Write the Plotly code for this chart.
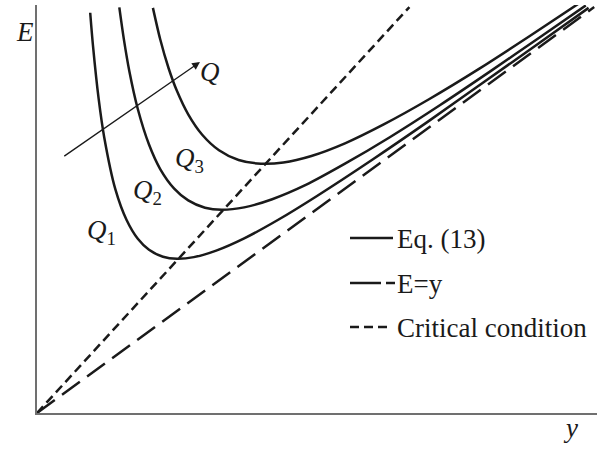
import plotly.graph_objects as go

# Specific-energy curves E(y) for three discharges (Q1 < Q2 < Q3)
q1_y = [0.95, 1.0, 1.1, 1.2, 1.4, 1.6, 1.8, 2.0, 2.25, 2.5, 2.8, 3.2, 3.7, 4.3, 5.0, 6.0, 7.0, 8.0, 9.0, 9.85]
q1_E = [9.81, 9.0, 7.71, 6.76, 5.48, 4.73, 4.27, 4.0, 3.83, 3.78, 3.82, 3.98, 4.28, 4.73, 5.32, 6.22, 7.16, 8.13, 9.10, 9.93]

q2_y = [1.47, 1.55, 1.65, 1.8, 2.0, 2.2, 2.45, 2.7, 3.0, 3.3, 3.7, 4.2, 4.8, 5.5, 6.3, 7.2, 8.1, 9.0, 9.8]
q2_E = [9.94, 9.17, 8.37, 7.45, 6.58, 5.98, 5.50, 5.21, 5.03, 4.98, 5.04, 5.24, 5.59, 6.11, 6.76, 7.55, 8.38, 9.23, 9.99]

q3_y = [2.07, 2.2, 2.35, 2.5, 2.7, 2.95, 3.25, 3.6, 4.0, 4.4, 4.9, 5.5, 6.2, 7.0, 7.9, 8.8, 9.7]
q3_E = [9.93, 9.16, 8.45, 7.89, 7.32, 6.82, 6.44, 6.20, 6.11, 6.14, 6.30, 6.61, 7.08, 7.69, 8.44, 9.24, 10.06]

# Reference lines
eqy_y = [0.0, 9.95]
eqy_E = [0.0, 9.95]
crit_y = [0.0, 6.65]
crit_E = [0.0, 9.95]

legend_labels = ["Eq. (13)", "E=y", "Critical condition"]
curve_labels = ["<i>Q</i><sub>1</sub>", "<i>Q</i><sub>2</sub>", "<i>Q</i><sub>3</sub>"]

INK = "#1a1a1a"
SERIF = "Liberation Serif"
FS = 27

fig = go.Figure()
for ys, Es in [(q1_y, q1_E), (q2_y, q2_E), (q3_y, q3_E)]:
    fig.add_trace(go.Scatter(x=ys, y=Es, mode="lines", line=dict(color=INK, width=2.5, shape="spline", smoothing=0.8),
                             showlegend=False, hoverinfo="skip"))
fig.add_trace(go.Scatter(x=eqy_y, y=eqy_E, mode="lines", line=dict(color=INK, width=2.5, dash="22px,9px"),
                         showlegend=False, hoverinfo="skip"))
fig.add_trace(go.Scatter(x=crit_y, y=crit_E, mode="lines", line=dict(color=INK, width=2.5, dash="9px,5px"),
                         showlegend=False, hoverinfo="skip"))

ann = []
# curve labels
for (lx, ly), txt in zip([(1.16, 4.44), (1.98, 5.42), (2.73, 6.20)], curve_labels):
    ann.append(dict(x=lx, y=ly, xref="x", yref="y", text=txt, showarrow=False,
                    font=dict(family=SERIF, size=FS, color=INK)))
# increasing-Q arrow
ann.append(dict(x=2.91, y=8.60, ax=0.46, ay=6.27, xref="x", yref="y", axref="x", ayref="y",
                text="", showarrow=True, arrowhead=2, arrowsize=1.2, arrowwidth=1.3, arrowcolor=INK))
ann.append(dict(x=3.09, y=8.36, xref="x", yref="y", text="<i>Q</i>", showarrow=False,
                font=dict(family=SERIF, size=FS, color=INK)))
# axis titles
ann.append(dict(x=-0.041, y=0.975, xref="paper", yref="paper", text="<i>E</i>", showarrow=False,
                font=dict(family=SERIF, size=FS, color=INK)))
ann.append(dict(x=0.97, y=-0.078, xref="paper", yref="paper", text="<i>y</i>", showarrow=False,
                font=dict(family=SERIF, size=FS, color=INK)))

# legend drawn by hand
def px(xp):
    return (xp - 37) / 560.0

def py(yp):
    return (413 - yp) / 408.0

rows = [238, 283, 327]
for r, txt in zip(rows, legend_labels):
    ann.append(dict(x=px(395), y=py(r + 1), xref="paper", yref="paper", text=txt, showarrow=False,
                    xanchor="left", yanchor="middle", font=dict(family=SERIF, size=FS, color=INK)))

shapes = [
    dict(type="line", xref="paper", yref="paper", x0=px(350), x1=px(393), y0=py(rows[0]), y1=py(rows[0]),
         line=dict(color=INK, width=2.5)),
    dict(type="line", xref="paper", yref="paper", x0=px(350), x1=px(381), y0=py(rows[1]), y1=py(rows[1]),
         line=dict(color=INK, width=2.5)),
    dict(type="line", xref="paper", yref="paper", x0=px(386), x1=px(395), y0=py(rows[1]), y1=py(rows[1]),
         line=dict(color=INK, width=2.5)),
    dict(type="line", xref="paper", yref="paper", x0=px(350), x1=px(390), y0=py(rows[2]), y1=py(rows[2]),
         line=dict(color=INK, width=2.5, dash="9px,5px")),
]

fig.update_layout(
    width=597, height=459,
    margin=dict(l=37, r=0, t=5, b=46),
    paper_bgcolor="white", plot_bgcolor="white",
    annotations=ann, shapes=shapes,
    xaxis=dict(range=[0, 10], showgrid=False, zeroline=False, showticklabels=False, ticks="",
               showline=True, linecolor="#707070", linewidth=1.5),
    yaxis=dict(range=[0, 10], showgrid=False, zeroline=False, showticklabels=False, ticks="",
               showline=True, linecolor="#707070", linewidth=1.5),
)

fig.write_html("out.html", config={"displayModeBar": False})
